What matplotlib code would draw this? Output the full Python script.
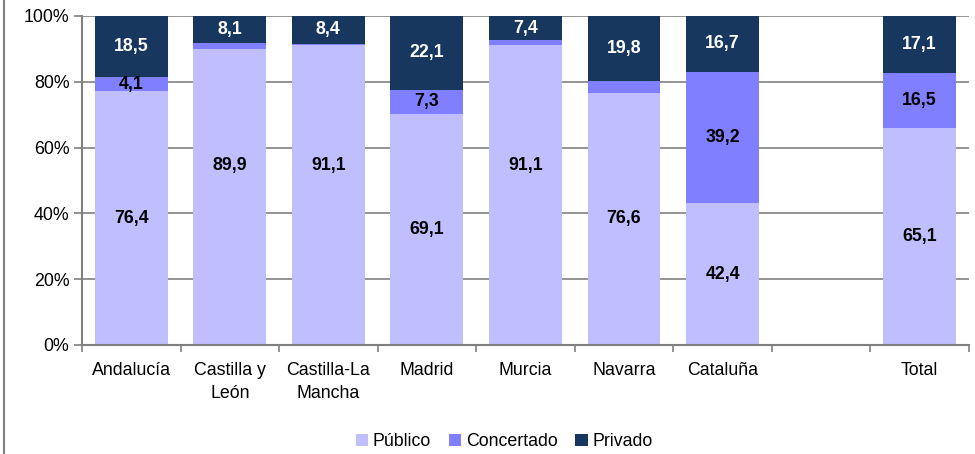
import numpy as np
import matplotlib
matplotlib.use("Agg")
import matplotlib.pyplot as plt
from matplotlib.lines import Line2D

plt.rcParams['font.family'] = ['Liberation Sans', 'DejaVu Sans']

categories = ["Andalucía", "Castilla y\nLeón", "Castilla-La\nMancha", "Madrid", "Murcia",
              "Navarra", "Cataluña", "", "Total"]
publico = [76.4, 89.9, 91.1, 69.1, 91.1, 76.6, 42.4, 0.0, 65.1]
concertado = [4.1, 2.0, 0.5, 7.3, 1.5, 3.6, 39.2, 0.0, 16.5]
privado = [18.5, 8.1, 8.4, 22.1, 7.4, 19.8, 16.7, 0.0, 17.1]
# which segments carry a value label
show_pub = [True, True, True, True, True, True, True, False, True]
show_con = [True, False, False, True, False, False, True, False, True]
show_pri = [True, True, True, True, True, True, True, False, True]
# Público labels that were moved up in the original
pub_label_override = {1: 54.5, 2: 54.5, 4: 54.5}

c_pub = "#BFBFFF"
c_con = "#7F7FFF"
c_pri = "#17375E"
grey = "#808080"

pub = np.array(publico)
con = np.array(concertado)
pri = np.array(privado)
tot = pub + con + pri
tot[tot == 0] = 1
pub_p = pub / tot * 100
con_p = con / tot * 100
pri_p = pri / tot * 100

fig = plt.figure(figsize=(9.75, 4.54), dpi=100)
ax = fig.add_axes([0.0841, 0.2401, 0.9097, 0.7247])

x = np.arange(len(categories))
w = 0.74
ax.bar(x, pub_p, w, color=c_pub, label="Público", zorder=2)
ax.bar(x, con_p, w, bottom=pub_p, color=c_con, label="Concertado", zorder=2)
ax.bar(x, pri_p, w, bottom=pub_p + con_p, color=c_pri, label="Privado", zorder=2)

fmt = lambda v: ("%.1f" % v).replace(".", ",")
fs = 12.8
for i in range(len(categories)):
    if show_pub[i]:
        y = pub_label_override.get(i, pub_p[i] / 2)
        ax.text(x[i], y, fmt(publico[i]), ha="center", va="center",
                fontsize=fs, fontweight="bold", color="black", zorder=3)
    if show_con[i]:
        ax.text(x[i], pub_p[i] + con_p[i] / 2, fmt(concertado[i]), ha="center", va="center",
                fontsize=fs, fontweight="bold", color="black", zorder=3)
    if show_pri[i]:
        ax.text(x[i], pub_p[i] + con_p[i] + pri_p[i] / 2, fmt(privado[i]), ha="center",
                va="center", fontsize=fs, fontweight="bold", color="white", zorder=3)

ax.set_xlim(-0.5, len(categories) - 0.5)
ax.set_ylim(0, 100)
ax.set_yticks(np.arange(0, 101, 20))
ax.set_yticklabels(["%d%%" % v for v in range(0, 101, 20)], fontsize=fs)
ax.yaxis.grid(True, color=grey, linewidth=1.2, zorder=0)
ax.set_axisbelow(True)

# category labels between separator ticks
ax.set_xticks(np.arange(-0.5, len(categories), 1.0))
ax.set_xticklabels([])
ax.set_xticks(x, minor=True)
ax.set_xticklabels(categories, minor=True, fontsize=fs, linespacing=1.45)
ax.tick_params(axis="x", which="minor", length=0, pad=12)
ax.tick_params(axis="x", which="major", length=5, width=1.2, color=grey)
ax.tick_params(axis="y", length=6, width=1.2, color=grey, pad=3)

for s in ["top", "right"]:
    ax.spines[s].set_visible(False)
for s in ["left", "bottom"]:
    ax.spines[s].set_color(grey)
    ax.spines[s].set_linewidth(1.5)

fig.legend(loc="center", bbox_to_anchor=(0.517, 0.027), ncol=3, frameon=False,
           fontsize=fs, handlelength=0.7, handleheight=0.7, handletextpad=0.25,
           columnspacing=1.0)

fig.add_artist(Line2D([0.004, 0.004], [0, 1], color=grey, linewidth=1.5,
                      transform=fig.transFigure))

fig.savefig("out.png", dpi=100)
